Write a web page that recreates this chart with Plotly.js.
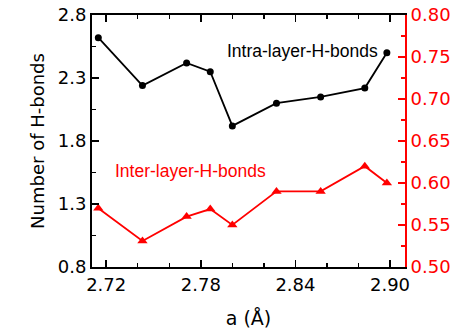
<!DOCTYPE html>
<html>
<head>
<meta charset="utf-8">
<script src="https://cdn.plot.ly/plotly-3.0.1.min.js"></script>
<style>html,body{margin:0;padding:0;background:#fff;}#chart{width:459px;height:331px;}</style>
</head>
<body>
<div id="chart"></div>
<script>
var latticeA = [2.715, 2.743, 2.771, 2.786, 2.800, 2.828, 2.856, 2.884, 2.898];
var intraHBonds = [2.62, 2.24, 2.42, 2.35, 1.92, 2.10, 2.15, 2.22, 2.50];
var interHBonds = [0.570, 0.531, 0.560, 0.569, 0.550, 0.590, 0.590, 0.620, 0.600];
var intraLabel = 'Intra-layer-H-bonds';
var interLabel = 'Inter-layer-H-bonds';

var tickFont = {family: 'DejaVu Sans', size: 18, color: '#000'};

var traces = [
  {x: latticeA, y: intraHBonds, type: 'scatter', mode: 'lines+markers', name: intraLabel,
   line: {color: '#000', width: 1.8}, marker: {symbol: 'circle', size: 7, color: '#000'}},
  {x: latticeA, y: interHBonds, type: 'scatter', mode: 'lines+markers', name: interLabel, yaxis: 'y2',
   line: {color: '#ff0000', width: 1.8}, marker: {symbol: 'triangle-up', size: 9, color: '#ff0000'}}
];

var layout = {
  width: 459, height: 331,
  margin: {l: 92, r: 54, t: 15, b: 64},
  paper_bgcolor: '#fff', plot_bgcolor: '#fff',
  showlegend: false,
  xaxis: {
    range: [2.711, 2.9095], tick0: 2.72, dtick: 0.06, tickformat: '.2f',
    ticks: 'inside', ticklen: 7, tickwidth: 1.8, tickcolor: '#000',
    minor: {dtick: 0.02, tick0: 2.72, ticks: 'inside', ticklen: 4, tickwidth: 1.5, tickcolor: '#000'},
    showline: true, linewidth: 2, linecolor: '#000', mirror: 'ticks',
    showgrid: false, zeroline: false, tickfont: tickFont,
    title: {text: 'a (Å)', font: {family: 'DejaVu Sans', size: 19, color: '#000'}, standoff: 18}
  },
  yaxis: {
    range: [0.8, 2.8], tick0: 0.8, dtick: 0.5, tickformat: '.1f',
    ticks: 'inside', ticklen: 7, tickwidth: 1.8, tickcolor: '#000',
    minor: {dtick: 0.25, tick0: 0.8, ticks: 'inside', ticklen: 4, tickwidth: 1.5, tickcolor: '#000'},
    showline: true, linewidth: 2, linecolor: '#000',
    showgrid: false, zeroline: false, tickfont: tickFont,
    title: {text: 'Number of H-bonds', font: {family: 'DejaVu Sans', size: 18, color: '#000'}, standoff: 8}
  },
  yaxis2: {
    overlaying: 'y', side: 'right',
    range: [0.5, 0.8], tick0: 0.5, dtick: 0.05, tickformat: '.2f',
    ticks: 'inside', ticklen: 7, tickwidth: 1.8, tickcolor: '#ff0000',
    minor: {dtick: 0.025, tick0: 0.5, ticks: 'inside', ticklen: 4, tickwidth: 1.5, tickcolor: '#ff0000'},
    showline: true, linewidth: 2, linecolor: '#ff0000',
    showgrid: false, zeroline: false,
    tickfont: {family: 'DejaVu Sans', size: 18, color: '#ff0000'}
  },
  annotations: [
    {text: intraLabel, xref: 'paper', yref: 'paper', x: 0.425, y: 0.857, xanchor: 'left', yanchor: 'middle',
     showarrow: false, font: {family: 'Liberation Sans, Arial', size: 17.5, color: '#000'}},
    {text: interLabel, xref: 'paper', yref: 'paper', x: 0.067, y: 0.382, xanchor: 'left', yanchor: 'middle',
     showarrow: false, font: {family: 'Liberation Sans, Arial', size: 17.5, color: '#ff0000'}}
  ]
};

Plotly.newPlot('chart', traces, layout, {staticPlot: true, displayModeBar: false});
</script>
</body>
</html>
